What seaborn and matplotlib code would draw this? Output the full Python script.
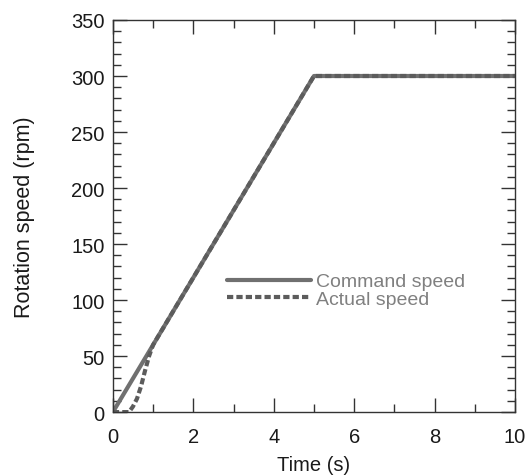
import matplotlib
matplotlib.use('Agg')
import matplotlib.pyplot as plt
import seaborn as sns
import pandas as pd
from matplotlib.ticker import MultipleLocator

command_time = [0, 5, 10]
command_speed = [0, 300, 300]
actual_time = [0, 0.4, 0.5, 0.6, 0.7, 0.8, 0.9, 1.0, 5, 10]
actual_speed = [0, 0, 5, 12, 23, 37, 50, 60, 300, 300]
series_names = ['Command speed', 'Actual speed']

sns.set_style('ticks')
plt.rcParams['font.family'] = ['Liberation Sans', 'DejaVu Sans']

fig = plt.figure(figsize=(5.25, 4.77), dpi=100)
ax = fig.add_axes([0.215, 0.134, 0.766, 0.822])

command_df = pd.DataFrame({'t': command_time, 'v': command_speed})
actual_df = pd.DataFrame({'t': actual_time, 'v': actual_speed})

sns.lineplot(data=command_df, x='t', y='v', ax=ax, color='#707070', linewidth=3.0,
             label=series_names[0], sort=False)
sns.lineplot(data=actual_df, x='t', y='v', ax=ax, color='#5c5c5c', linewidth=3.0,
             linestyle=(0, (1.5, 0.75)), label=series_names[1], sort=False)

ax.set_xlim(0, 10)
ax.set_ylim(0, 350)
ax.xaxis.set_major_locator(MultipleLocator(2))
ax.xaxis.set_minor_locator(MultipleLocator(1))
ax.yaxis.set_major_locator(MultipleLocator(50))
ax.yaxis.set_minor_locator(MultipleLocator(10))
ax.tick_params(which='both', direction='in', top=True, right=True, color='#333333',
               labelsize=14.5, labelcolor='#1a1a1a', width=1.0)
ax.tick_params(which='major', length=10)
ax.tick_params(which='minor', length=5.5)
ax.tick_params(axis='x', which='major', pad=11)
ax.tick_params(axis='y', which='major', pad=6)
for sp in ax.spines.values():
    sp.set_color('#333333')
    sp.set_linewidth(1.0)

ax.set_xlabel('Time (s)', fontsize=14.5, color='#1a1a1a', labelpad=6)
ax.set_ylabel('Rotation speed (rpm)', fontsize=15.5, color='#1a1a1a', labelpad=26)

leg = ax.legend(loc='upper left', bbox_to_anchor=(0.284, 0.355), frameon=False, fontsize=14,
                borderpad=0, borderaxespad=0, handlelength=4.3, handletextpad=0.25,
                labelspacing=0.0)
for txt in leg.get_texts():
    txt.set_color('#808080')

fig.savefig('out.png', dpi=100)
